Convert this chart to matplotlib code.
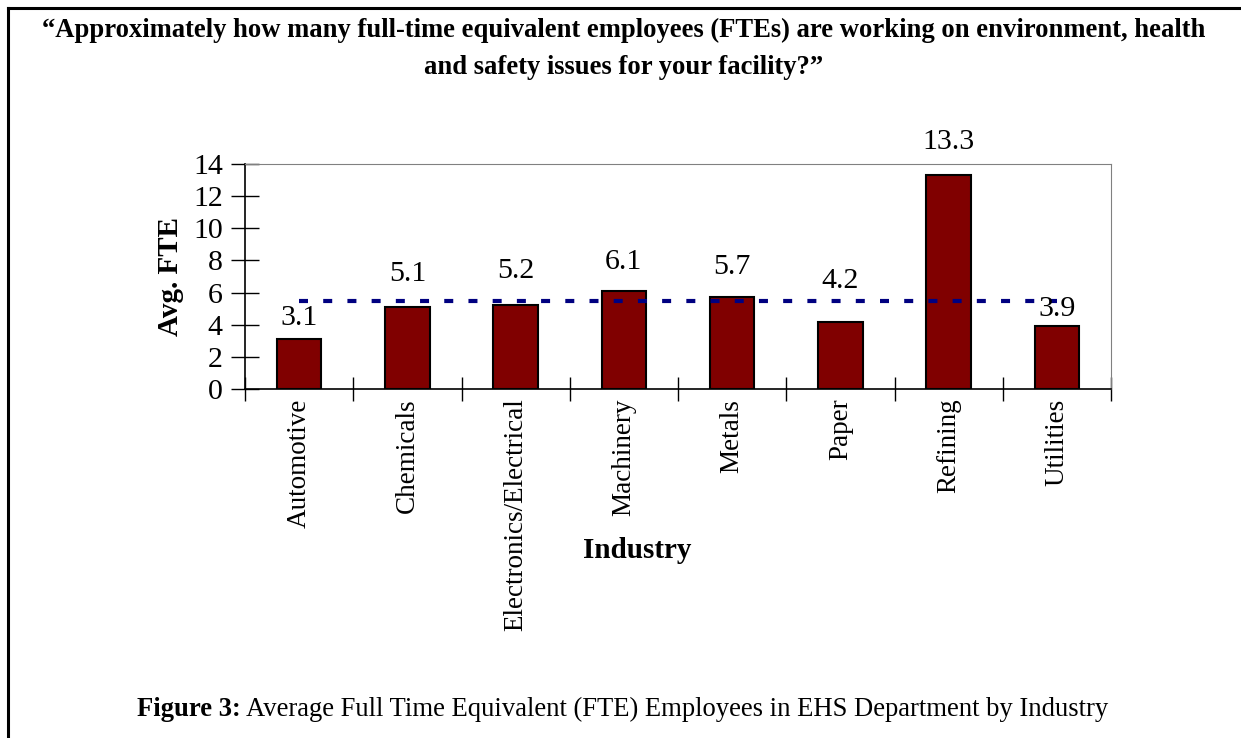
import numpy as np
import matplotlib
matplotlib.use('Agg')
import matplotlib.pyplot as plt
from matplotlib.lines import Line2D

plt.rcParams['font.family'] = ['Liberation Serif', 'DejaVu Serif']

industries = ['Automotive', 'Chemicals', 'Electronics/Electrical', 'Machinery',
              'Metals', 'Paper', 'Refining', 'Utilities']
avg_fte = [3.1, 5.1, 5.2, 6.1, 5.7, 4.2, 13.3, 3.9]
overall_avg = 5.5

# how far (px) each value label sits above its bar
label_lift = [21, 33, 34, 29, 30, 40, 33, 17]

W, H = 1241, 738
fig = plt.figure(figsize=(W / 100, H / 100), dpi=100)
ax = fig.add_axes([245/W, 1 - 389/H, (1111 - 245)/W, (389 - 164)/H])

x = np.arange(len(industries))
ax.bar(x, avg_fte, width=0.41, color='#800000', edgecolor='black', linewidth=1.5, zorder=2)
ax.plot([x[0], x[-1]], [overall_avg, overall_avg], color='#000080', linewidth=3,
        dashes=(2.16, 3.65), dash_capstyle='butt', zorder=3)

for xi, v, lift in zip(x, avg_fte, label_lift):
    ax.annotate('%.1f' % v, (xi, v), xytext=(0, lift * 0.72), textcoords='offset points',
                ha='center', va='center', fontsize=21.5)

ax.set_xlim(-0.5, len(industries) - 0.5)
ax.set_ylim(0, 14)
ax.set_yticks(range(0, 15, 2))
ax.set_xticks(np.arange(-0.5, len(industries), 1.0))
ax.set_xticklabels([])
ax.set_xticks(x, minor=True)
ax.set_xticklabels(industries, minor=True, rotation=90, fontsize=19.5)
ax.tick_params(axis='x', which='minor', length=0, pad=7)
ax.tick_params(axis='x', which='major', direction='inout', length=17, width=1)
ax.tick_params(axis='y', direction='inout', length=20, width=1, labelsize=21.5, pad=6)

for side in ['top', 'right']:
    ax.spines[side].set_color('#808080')
for side in ['left', 'bottom']:
    ax.spines[side].set_color('black')
    ax.spines[side].set_linewidth(1.2)

fig.text(171/W, 1 - 277/H, 'Avg. FTE', rotation=90, ha='center', va='center',
         fontsize=21, fontweight='bold')
fig.text(637/W, 1 - 550/H, 'Industry', ha='center', va='center',
         fontsize=21, fontweight='bold')

fig.text(624/W, 1 - 30/H,
         '\u201cApproximately how many full-time equivalent employees (FTEs) are working on environment, health',
         ha='center', va='center', fontsize=19.2, fontweight='bold')
fig.text(624/W, 1 - 67/H, 'and safety issues for your facility?\u201d',
         ha='center', va='center', fontsize=19.2, fontweight='bold')

# caption: bold lead-in followed by regular text
cap_y = 1 - 709/H
t1 = fig.text(137/W, cap_y, 'Figure 3:', ha='left', va='center', fontsize=19.2, fontweight='bold')
fig.canvas.draw()
bb = t1.get_window_extent()
fig.text((bb.x1 + 5) / W, cap_y,
         'Average Full Time Equivalent (FTE) Employees in EHS Department by Industry',
         ha='left', va='center', fontsize=19.2)

# frame around the figure
fig.add_artist(Line2D([8/W, 8/W], [0, 1 - 8/H], transform=fig.transFigure,
                      color='black', linewidth=2.2))
fig.add_artist(Line2D([8/W, 1], [1 - 8/H, 1 - 8/H], transform=fig.transFigure,
                      color='black', linewidth=2.2))

fig.savefig('out.png', dpi=100)
